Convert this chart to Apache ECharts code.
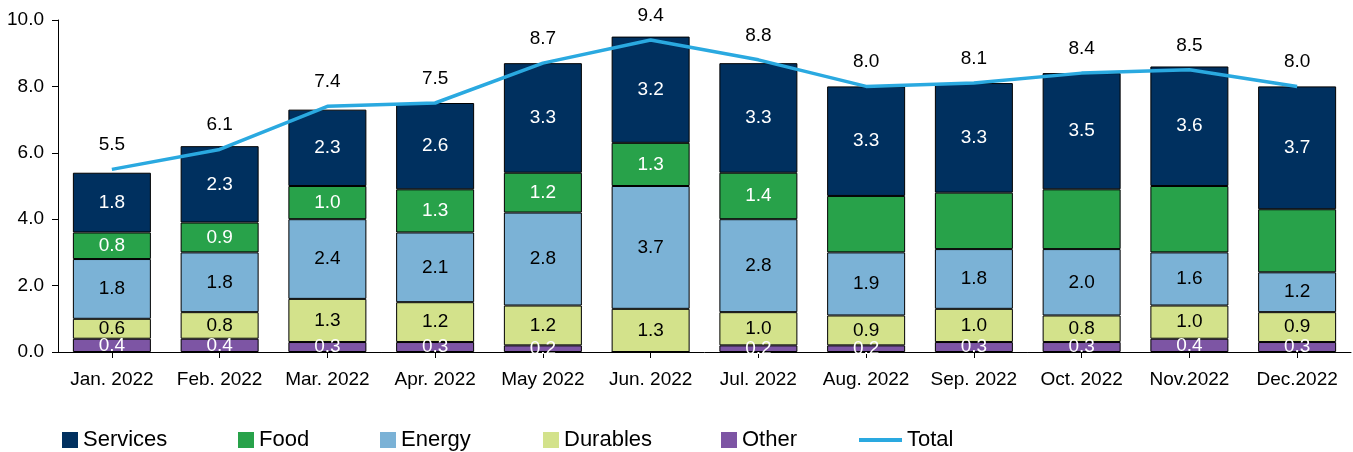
<!DOCTYPE html>
<html><head><meta charset="utf-8">
<script src="https://cdn.jsdelivr.net/npm/echarts@6/dist/echarts.min.js"></script>
<style>html,body{margin:0;padding:0;background:#fff}#c{width:1353px;height:452px}</style>
</head><body><div id="c"></div>
<script>
const categories = ['Jan. 2022','Feb. 2022','Mar. 2022','Apr. 2022','May 2022','Jun. 2022','Jul. 2022','Aug. 2022','Sep. 2022','Oct. 2022','Nov.2022','Dec.2022'];
const other    = [0.4,0.4,0.3,0.3,0.2,0.0,0.2,0.2,0.3,0.3,0.4,0.3];
const durables = [0.6,0.8,1.3,1.2,1.2,1.3,1.0,0.9,1.0,0.8,1.0,0.9];
const energy   = [1.8,1.8,2.4,2.1,2.8,3.7,2.8,1.9,1.8,2.0,1.6,1.2];
const food     = [0.8,0.9,1.0,1.3,1.2,1.3,1.4,1.7,1.7,1.8,2.0,1.9];
const services = [1.8,2.3,2.3,2.6,3.3,3.2,3.3,3.3,3.3,3.5,3.6,3.7];
const total    = [5.5,6.1,7.4,7.5,8.7,9.4,8.8,8.0,8.1,8.4,8.5,8.0];
const foodLabelShown = [true,true,true,true,true,true,true,false,false,false,false,false];
const yMin = 0, yMax = 10, yStep = 2;

const FONT = "'Liberation Sans',Arial,sans-serif";
const fmt = p => Number(p.value).toFixed(1);

function barSeries(name, values, color, labelColor, shown) {
  return {
    name, type: 'bar', stack: 'all', barWidth: 78,
    data: values.map((v, i) => ({ value: v, label: { show: v > 0 && (!shown || shown[i]) } })),
    itemStyle: { color, borderColor: '#000', borderWidth: 1 },
    label: { show: true, position: 'inside', color: labelColor, fontFamily: FONT, fontSize: 19, formatter: fmt },
    emphasis: { disabled: true }
  };
}

const colors = { Services: '#00305f', Food: '#28a24a', Energy: '#7bb2d6', Durables: '#d3e28b', Other: '#7d55a4', Total: '#2aa9e0' };
const legendLayout = [['Services',57],['Food',233],['Energy',375],['Durables',538],['Other',716],['Total',854]];

const legends = legendLayout.map(([name, left]) => ({
  data: [name], left, top: 423, orient: 'horizontal',
  itemWidth: name === 'Total' ? 43 : 16, itemHeight: name === 'Total' ? 4 : 16,
  icon: 'rect', selectedMode: false,
  itemStyle: { borderWidth: 0 },
  textStyle: { fontFamily: FONT, fontSize: 22, color: '#000', lineHeight: 24 }
}));

const chart = echarts.init(document.getElementById('c'), null, { renderer: 'canvas' });
chart.setOption({
  animation: false,
  backgroundColor: '#fff',
  grid: { left: 58, right: 2, top: 20, bottom: 100, containLabel: false },
  legend: legends,
  xAxis: {
    type: 'category', data: categories, boundaryGap: true,
    axisLine: { lineStyle: { color: '#000', width: 1 } },
    axisTick: { show: true, alignWithLabel: true, length: 6, lineStyle: { color: '#000' } },
    axisLabel: { interval: 0, fontFamily: FONT, fontSize: 19, color: '#000', margin: 18 }
  },
  yAxis: {
    type: 'value', min: yMin, max: yMax, interval: yStep,
    axisLine: { show: true, lineStyle: { color: '#000', width: 1 } },
    axisTick: { show: true, length: 6, lineStyle: { color: '#000' } },
    splitLine: { show: false },
    axisLabel: { fontFamily: FONT, fontSize: 19, color: '#000', margin: 14, formatter: v => v.toFixed(1) }
  },
  series: [
    barSeries('Other', other, colors.Other, '#fff'),
    barSeries('Durables', durables, colors.Durables, '#000'),
    barSeries('Energy', energy, colors.Energy, '#000'),
    barSeries('Food', food, colors.Food, '#fff', foodLabelShown),
    barSeries('Services', services, colors.Services, '#fff'),
    {
      name: 'Total', type: 'line', data: total, symbol: 'circle', symbolSize: 0.01, showSymbol: true, z: 10,
      lineStyle: { color: colors.Total, width: 3.5 },
      itemStyle: { color: colors.Total },
      label: { show: true, position: 'top', distance: 15, fontFamily: FONT, fontSize: 19, color: '#000', formatter: fmt },
      emphasis: { disabled: true }
    }
  ]
});
</script></body></html>
